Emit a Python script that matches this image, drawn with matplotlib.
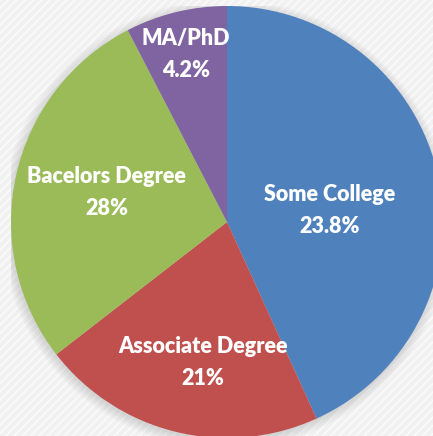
import numpy as np
import matplotlib.pyplot as plt
from matplotlib.patches import Rectangle, Circle

# data (slice sizes, labels as printed)
categories = ['Some College', 'Associate Degree', 'Bacelors Degree', 'MA/PhD']
shares = [43.2, 21.3, 27.9, 7.6]
label_pct = ['23.8%', '21%', '28%', '4.2%']
colors = ['#4F81BD', '#C0504D', '#9BBB59', '#8064A2']

plt.rcParams['hatch.linewidth'] = 1.2

fig = plt.figure(figsize=(4.33, 4.36), dpi=100)
fig.patch.set_facecolor('#f7f7f7')
# faint diagonal texture in the background
bg = Rectangle((0, 0), 1, 1, transform=fig.transFigure, facecolor='#f1f1f1',
               edgecolor='#fbfbfb', hatch='////', linewidth=0, zorder=-10)
fig.patches.append(bg)

ax = fig.add_axes([11/433, -2/436, 432/433, 432/436])
ax.axis('off')

wedges, _ = ax.pie(shares, colors=colors, startangle=90, counterclock=False,
                   radius=1.0, wedgeprops={'linewidth': 0})
for w in wedges:
    w.set_zorder(2)

# soft shadow round the pie
for k in range(8):
    ax.add_patch(Circle((-0.005, -0.01), 1.0 + 0.006*k, color='#808080',
                        alpha=0.035, lw=0, zorder=0))

ax.set_xlim(-1, 1)
ax.set_ylim(-1, 1)
ax.set_aspect('equal')

# label placement: radius and angle nudge per slice
rad = [0.48, 0.66, 0.575, 0.80]
nudge = [-6, 4, -1.5, 0]
for w, name, pct, r, d in zip(wedges, categories, label_pct, rad, nudge):
    ang = np.deg2rad((w.theta1 + w.theta2)/2 + d)
    x, y = r*np.cos(ang), r*np.sin(ang)
    ax.text(x, y, name + '\n' + pct, ha='center', va='center', color='white',
            fontsize=15.5, fontweight='heavy', family='Lato', linespacing=1.65,
            zorder=5)

fig.savefig('out.png', dpi=100, facecolor=fig.get_facecolor())
